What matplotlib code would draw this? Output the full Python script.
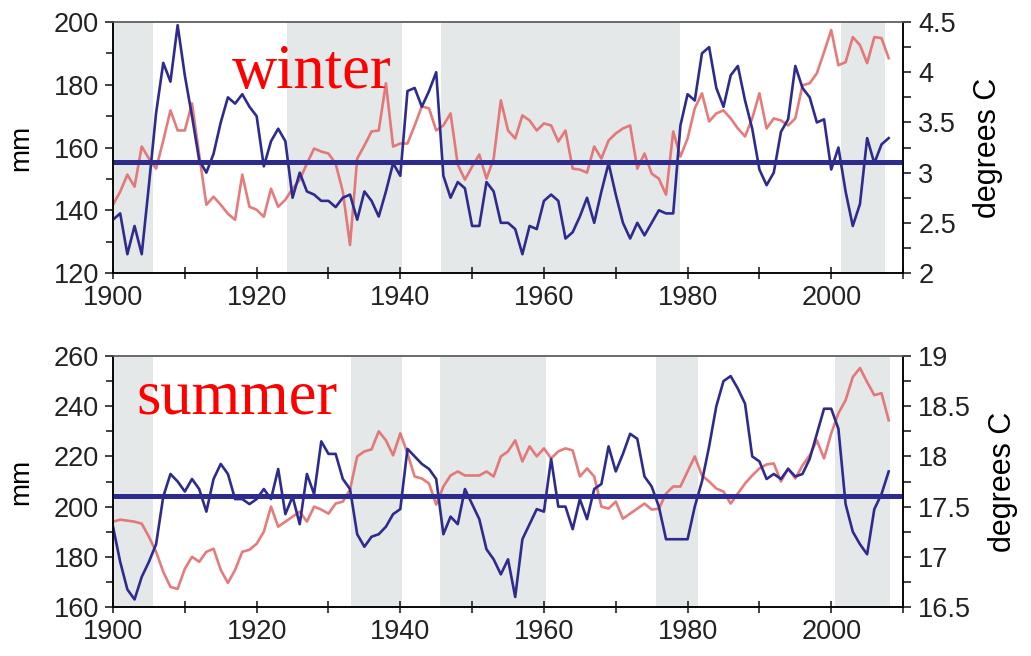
import matplotlib
matplotlib.use("Agg")
import matplotlib.pyplot as plt
from matplotlib.ticker import MultipleLocator, FormatStrFormatter

years = list(range(1900, 2009))

# winter precipitation (mm, left axis) and temperature (deg C, right axis)
winter_precip = [
    137, 139, 126, 135, 126, 148, 171, 187, 181, 199,
    183, 170, 156, 152, 158, 168, 176, 174, 177, 173,
    170, 154, 162, 166, 162, 144, 152, 146, 145, 143,
    143, 141, 144, 145, 137, 146, 143, 138, 146, 155,
    151, 178, 179, 173, 178, 184, 151, 144, 149, 147,
    135, 135, 149, 146, 136, 136, 134, 126, 135, 134,
    143, 145, 143, 131, 133, 138, 144, 136, 146, 155,
    145, 136, 131, 136, 132, 136, 140, 139, 139, 167,
    177, 175, 190, 192, 179, 173, 183, 186, 175, 166,
    153, 148, 152, 165, 169, 186, 179, 176, 168, 169,
    153, 160, 146, 135, 142, 163, 155, 161, 163,
]
winter_temp = [
    2.68, 2.81, 2.98, 2.86, 3.26, 3.14, 3.04, 3.32, 3.62, 3.42,
    3.42, 3.69, 3.18, 2.68, 2.76, 2.68, 2.59, 2.53, 2.98, 2.66,
    2.63, 2.56, 2.84, 2.66, 2.73, 2.84, 2.93, 3.09, 3.24, 3.21,
    3.19, 3.09, 2.81, 2.28, 3.14, 3.27, 3.41, 3.42, 3.89, 3.26,
    3.29, 3.29, 3.47, 3.66, 3.64, 3.42, 3.47, 3.59, 3.08, 2.93,
    3.06, 3.18, 2.94, 3.14, 3.72, 3.42, 3.34, 3.57, 3.52, 3.42,
    3.49, 3.47, 3.31, 3.42, 3.04, 3.03, 3.00, 3.26, 3.14, 3.32,
    3.39, 3.44, 3.47, 3.04, 3.19, 2.99, 2.94, 2.78, 3.41, 3.16,
    3.34, 3.64, 3.79, 3.51, 3.59, 3.62, 3.54, 3.44, 3.36, 3.54,
    3.79, 3.44, 3.54, 3.52, 3.47, 3.54, 3.87, 3.89, 3.99, 4.20,
    4.42, 4.07, 4.10, 4.35, 4.27, 4.09, 4.35, 4.34, 4.14,
]

# summer precipitation and temperature
summer_precip = [
    192, 178, 167, 163, 172, 178, 185, 204, 213, 210,
    206, 211, 207, 198, 211, 217, 213, 203, 203, 201,
    203, 207, 203, 215, 197, 204, 193, 213, 205, 226,
    221, 221, 211, 207, 189, 184, 188, 189, 192, 197,
    199, 223, 220, 217, 215, 211, 189, 196, 193, 207,
    201, 195, 183, 179, 173, 179, 164, 187, 193, 199,
    198, 219, 200, 200, 191, 203, 195, 207, 209, 224,
    214, 221, 229, 227, 212, 208, 200, 187, 187, 187,
    187, 200, 210, 224, 240, 250, 252, 247, 241, 220,
    218, 211, 213, 211, 215, 212, 213, 219, 229, 239,
    239, 231, 201, 190, 185, 181, 199, 205, 214,
]
summer_temp = [
    17.35, 17.37, 17.36, 17.35, 17.33, 17.20, 17.05, 16.85, 16.70, 16.68,
    16.88, 17.00, 16.95, 17.05, 17.08, 16.87, 16.74, 16.87, 17.05, 17.07,
    17.13, 17.25, 17.50, 17.30, 17.35, 17.40, 17.45, 17.35, 17.50, 17.47,
    17.43, 17.53, 17.55, 17.67, 18.00, 18.05, 18.07, 18.25, 18.16, 18.01,
    18.23, 18.03, 17.80, 17.78, 17.73, 17.52, 17.70, 17.81, 17.85, 17.81,
    17.81, 17.81, 17.85, 17.80, 18.00, 18.05, 18.16, 17.95, 18.10, 18.00,
    18.08, 17.98, 18.05, 18.08, 18.06, 17.80, 17.88, 17.80, 17.50, 17.48,
    17.55, 17.38, 17.43, 17.48, 17.53, 17.47, 17.48, 17.63, 17.70, 17.70,
    17.85, 18.00, 17.81, 17.75, 17.68, 17.65, 17.53, 17.63, 17.73, 17.81,
    17.88, 17.92, 17.93, 17.75, 17.88, 17.78, 17.91, 18.01, 18.16, 17.98,
    18.23, 18.43, 18.56, 18.79, 18.88, 18.74, 18.61, 18.63, 18.36,
]

winter_mean = 155.5
summer_mean = 204.3

winter_shade = [(1900, 1905.5), (1924.2, 1940.3), (1945.7, 1979.0), (2001.3, 2007.5)]
summer_shade = [(1900, 1905.6), (1933.1, 1940.2), (1945.5, 1960.3),
                (1975.6, 1981.5), (2000.5, 2008.2)]

BLUE = "#2e2b8f"
RED = "#e26464"
SHADE = "#e5e8e9"
TICKFONT = 19.5

plt.rcParams["font.family"] = ["Liberation Sans", "DejaVu Sans"]

fig = plt.figure(figsize=(10.31, 6.56), dpi=100)


def style_axis(a):
    a.tick_params(which="both", labelsize=TICKFONT, width=1.2, colors="#222222")
    for s in a.spines.values():
        s.set_linewidth(1.1)
    a.spines["top"].set_color("#666666")


def draw_panel(rect, precip, temp, mean, shades, mm_lim, deg_lim, word, word_xy):
    ax = fig.add_axes(rect)
    ax2 = ax.twinx()
    ax.set_zorder(ax2.get_zorder() + 1)
    ax.patch.set_visible(False)

    for a, b in shades:
        ax2.axvspan(a, b, color=SHADE, lw=0)
    ax2.plot(years, temp, color=RED, lw=1.9, alpha=0.85)
    ax.plot(years, precip, color=BLUE, lw=1.9)
    ax.axhline(mean, color=BLUE, lw=3.6)

    ax.set_xlim(1900, 2010)
    ax.set_ylim(*mm_lim)
    ax2.set_ylim(*deg_lim)

    ax.xaxis.set_major_locator(MultipleLocator(20))
    ax.xaxis.set_minor_locator(MultipleLocator(10))
    ax.yaxis.set_major_locator(MultipleLocator(20))
    ax.yaxis.set_minor_locator(MultipleLocator(10))
    ax2.yaxis.set_major_locator(MultipleLocator(0.5))
    ax2.yaxis.set_minor_locator(MultipleLocator(0.25))
    ax2.yaxis.set_major_formatter(FormatStrFormatter("%g"))

    ax.tick_params(axis="x", which="both", direction="inout", length=9, pad=4)
    ax.tick_params(axis="y", which="major", direction="out", length=6, pad=4)
    ax.tick_params(axis="y", which="minor", direction="out", length=5)
    ax2.tick_params(axis="y", which="both", direction="out", length=6, pad=5)
    style_axis(ax)
    style_axis(ax2)

    ax.set_ylabel("mm", fontsize=20, labelpad=14)
    ax2.set_ylabel("degrees C", fontsize=22, labelpad=12)

    ax.text(word_xy[0], word_xy[1], word, color="red", fontsize=45,
            family=["Liberation Serif", "DejaVu Serif"], zorder=5)


draw_panel([0.1096, 0.5838, 0.7663, 0.3826], winter_precip, winter_temp, winter_mean,
           winter_shade, (120, 200), (2, 4.5), "winter", (1916.5, 179))
draw_panel([0.1096, 0.0747, 0.7663, 0.3826], summer_precip, summer_temp, summer_mean,
           summer_shade, (160, 260), (16.5, 19), "summer", (1903.2, 237))

fig.savefig("out.png", dpi=100)
